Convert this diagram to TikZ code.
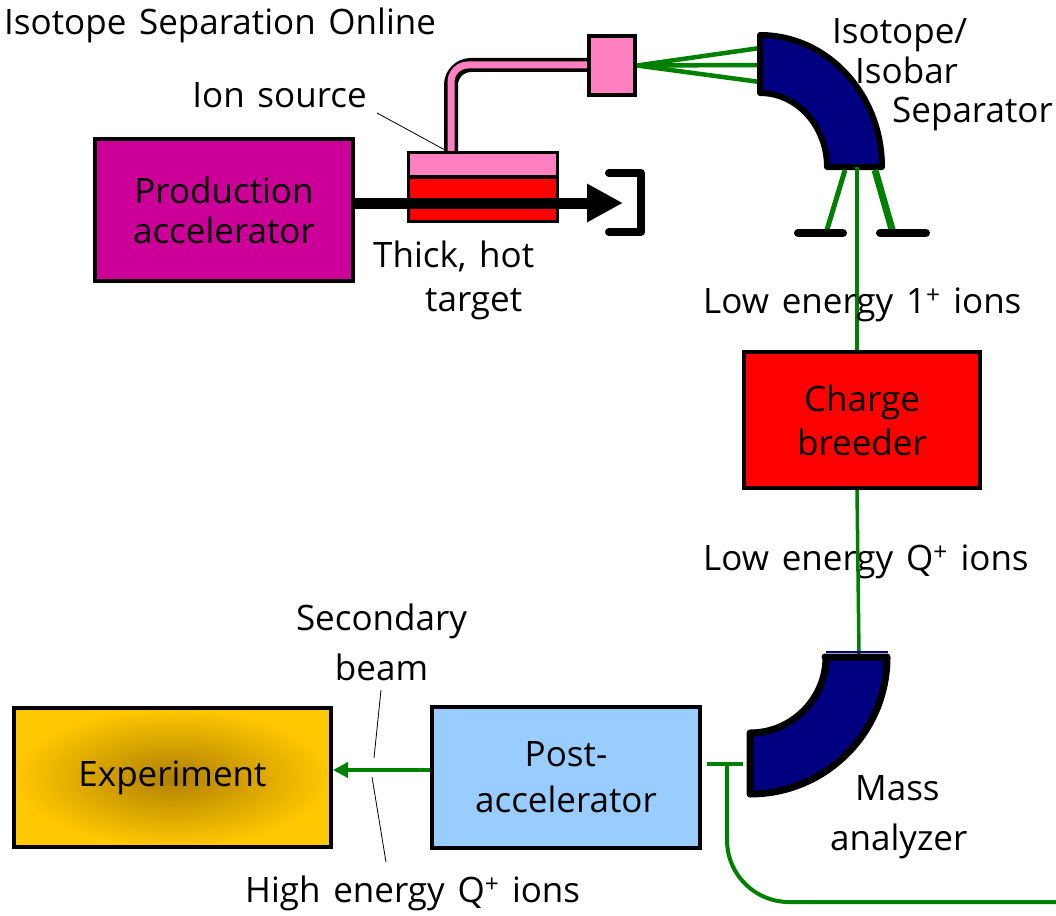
\documentclass[tikz,border=0pt]{standalone}
\usepackage{fontspec}
\setmainfont[WordSpace=1.4]{Open Sans}
\usetikzlibrary{arrows.meta}
\definecolor{cprod}{HTML}{CC0099}
\definecolor{cpink}{HTML}{FF80C0}
\definecolor{ctarget}{HTML}{FF0000}
\definecolor{cmagnet}{HTML}{000080}
\definecolor{cbeam}{HTML}{008000}
\definecolor{cpost}{HTML}{99CCFF}
\definecolor{cexpin}{HTML}{B08000}
\definecolor{cexpout}{HTML}{FFC800}
\tikzset{
  txt/.style={font=\fontsize{35}{#1}\selectfont, inner sep=0pt, align=center},
  txt/.default=42,
  box/.style={draw=black, line width=4pt, inner sep=0pt},
  magnet/.style={fill=cmagnet, draw=black, line width=6pt, line join=round},
  beam/.style={draw=cbeam, line width=4pt},
  leader/.style={draw=black, line width=0.8pt},
  stopper/.style={draw=black, line width=8pt, line cap=round, line join=round},
}

\begin{document}
\begin{tikzpicture}[x=1pt, y=-1pt]
  \fill[white] (0,0) rectangle (1056,915);
  \useasboundingbox (0,0) rectangle (1056,915);

  % ISOL part
  \node[txt, anchor=base west] (title) at (4,35) {Isotope Separation Online};
  \draw[line width=14pt, rounded corners=20pt] (451,160) -- (451,65) -- (592,65);
  \draw[line width=7pt, cpink, rounded corners=17pt] (451,160) -- (451,65) -- (592,65);
  \node[box, fill=cprod, txt=40, minimum width=258pt, minimum height=142pt] (prod) at (224,210) {Production\\accelerator};
  \node[box, line width=3pt, fill=ctarget, minimum width=149pt, minimum height=44pt] (target) at (483,199) {};
  \node[box, line width=3pt, fill=cpink, minimum width=149pt, minimum height=24pt] (src) at (483,164) {};
  \node[box, fill=cpink, minimum width=46pt, minimum height=59pt] (sqr) at (612,65.5) {};
  \coordinate (dumpin) at (623,203);
  \draw[line width=11pt, -{Triangle[length=36pt, width=36pt]}] ([yshift=7pt]prod.east) -- (dumpin);
  \draw[stopper] (609,173) -- (641,173) -- (641,232) -- (609,232);

  \node[txt, anchor=base] (srclbl) at (279.5,107) {Ion source};
  \coordinate (srctip) at (445,150);
  \draw[leader] (377,113) -- (srctip);
  \node[txt=44, anchor=base west, align=left] (tgtlbl) at (373,311) {Thick, hot\\\hspace*{52pt}target};

  % isotope/isobar separator
  \foreach \y [count=\i] in {48,65,82}
    \coordinate (sep\i) at (760,\y);
  \foreach \i in {1,2,3}
    \draw[beam, line width=4.5pt] (sqr.east) -- (sep\i);
  \filldraw[magnet] (760,35) arc[start angle=-90, end angle=0, x radius=122, y radius=132]
    -- (827,167) arc[start angle=0, end angle=-90, x radius=67, y radius=74] -- cycle;
  \node[txt=39, anchor=base west, align=left] (seplbl) at (832,122) {Isotope/\\\hspace*{23pt}Isobar\\\hspace*{60pt}Separator};
  \coordinate (sepout) at (857,167);
  \draw[beam, line width=5pt] (845,170) -- (826,233);
  \draw[beam, line width=7pt] (875,170) -- (893,233);
  \draw[stopper] (798,233) -- (843,233);
  \draw[stopper] (880,233) -- (926,233);

  % charge breeding
  \node[box, fill=ctarget, txt=44, minimum width=236pt, minimum height=136pt] (breeder) at (862,420) {Charge\\breeder};
  \draw[beam, line width=3.5pt] (sepout) -- (sepout |- breeder.north);
  \node[txt, anchor=base west] (low1) at (703,313) {Low energy 1\textsuperscript{+} ions};
  \node[txt, anchor=base west] (lowq) at (703,570) {Low energy Q\textsuperscript{+} ions};

  % mass analyzer
  \coordinate (massin) at (859,655);
  \draw[beam, line width=3.5pt] (breeder.south -| sepout) -- (massin);
  \draw[cmagnet, line width=2pt] (826,652) -- (888,652);
  \filldraw[magnet, line width=7pt] (825,657) -- (887,657) arc[start angle=0, end angle=90, radius=137]
    -- (750,733) arc[start angle=90, end angle=0, radius=76] -- cycle;
  \node[txt=50, anchor=base west, align=left] (masslbl) at (830,850) {\hspace*{25pt}Mass\\analyzer};
  \coordinate (massout) at (727,764);
  \draw[beam] (707,764) -- (743,764);
  \draw[beam, rounded corners=62pt] (massout) -- (727,902) -- (1060,902);

  % post acceleration
  \node[box, fill=cpost, txt=46, minimum width=268pt, minimum height=141pt] (post) at (566,777.5) {Post-\\accelerator};
  \node[box, inner color=cexpin, outer color=cexpout, txt, minimum width=317pt, minimum height=139pt] (expt) at (172.5,777.5) {Experiment};
  \draw[beam, -{Triangle[length=15pt, width=15pt]}] ([yshift=7.5pt]post.west) -- ([yshift=7.5pt]expt.east);
  \node[txt=50, anchor=base] (seclbl) at (381.5,680) {Secondary\\beam};
  \node[txt, anchor=base west] (hilbl) at (245,902) {High energy Q\textsuperscript{+} ions};
  \draw[leader] (381,690) -- (374,758);
  \draw[leader] (372,777) -- (386,862);
\end{tikzpicture}
\end{document}
